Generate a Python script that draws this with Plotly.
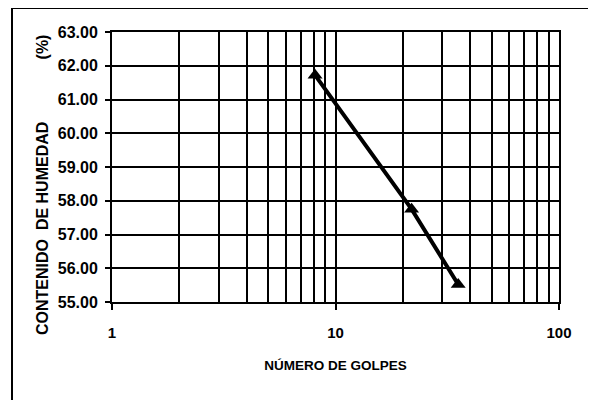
import plotly.graph_objects as go

# Data
golpes = [8.1, 21.9, 35.4]
humedad = [61.72, 57.75, 55.52]

x_major = [1, 10, 100]
x_major_text = ["1", "10", "100"]
x_minor = [2, 3, 4, 5, 6, 7, 8, 9, 20, 30, 40, 50, 60, 70, 80, 90]
y_ticks = [55, 56, 57, 58, 59, 60, 61, 62, 63]

FONT = "Liberation Sans, Arial, sans-serif"

# plot area in reference pixels: x 112..559, y 32..302 (page has 8px body offset)
fig = go.Figure()
fig.add_trace(go.Scatter(
    x=golpes, y=humedad, mode="lines+markers",
    line=dict(color="black", width=4),
    marker=dict(symbol="triangle-up", size=13, color="black"),
    showlegend=False,
))

fig.update_layout(
    width=596, height=400,
    margin=dict(l=104, r=45, t=24, b=106),
    paper_bgcolor="white", plot_bgcolor="white",
    font=dict(family=FONT, color="black"),
    xaxis=dict(
        type="log", range=[0, 2],
        tickmode="array", tickvals=x_major, ticktext=x_major_text,
        ticks="outside", ticklen=6, tickwidth=1.5, tickcolor="black",
        tickfont=dict(size=15, family=FONT, color="black", weight="bold"),
        ticklabelstandoff=10,
        showgrid=True, gridcolor="black", gridwidth=1.8,
        minor=dict(tickmode="array", tickvals=x_minor, showgrid=True,
                   gridcolor="black", gridwidth=1.8, ticks=""),
        showline=True, linecolor="black", linewidth=2, mirror=True,
        zeroline=False,
        title=dict(text="NÚMERO DE GOLPES", standoff=21,
                   font=dict(size=13.5, family=FONT, color="black", weight="bold")),
    ),
    yaxis=dict(
        range=[55, 63], tickmode="array", tickvals=y_ticks,
        tickformat=".2f",
        ticks="outside", ticklen=5, tickwidth=1.5, tickcolor="black",
        tickfont=dict(size=16, family=FONT, color="black", weight="bold"),
        ticklabelstandoff=4,
        showgrid=True, gridcolor="black", gridwidth=1.8,
        showline=True, linecolor="black", linewidth=2, mirror=True,
        zeroline=False,
    ),
    annotations=[dict(
        text="CONTENIDO  DE HUMEDAD" + " " * 14 + "(%)",
        textangle=-90, xref="paper", yref="paper",
        x=(42 - 112) / 447, y=(302 - 337) / 270,
        xanchor="center", yanchor="bottom", showarrow=False,
        font=dict(size=16, family=FONT, color="black", weight="bold"),
    )],
    shapes=[dict(
        type="rect", xref="paper", yref="paper",
        x0=(12 - 112) / 447, x1=(592 - 112) / 447,
        y0=(302 - 420) / 270, y1=(302 - 8) / 270,
        line=dict(color="black", width=2), fillcolor="rgba(0,0,0,0)",
        layer="below",
    )],
)

fig.write_html("out.html")
